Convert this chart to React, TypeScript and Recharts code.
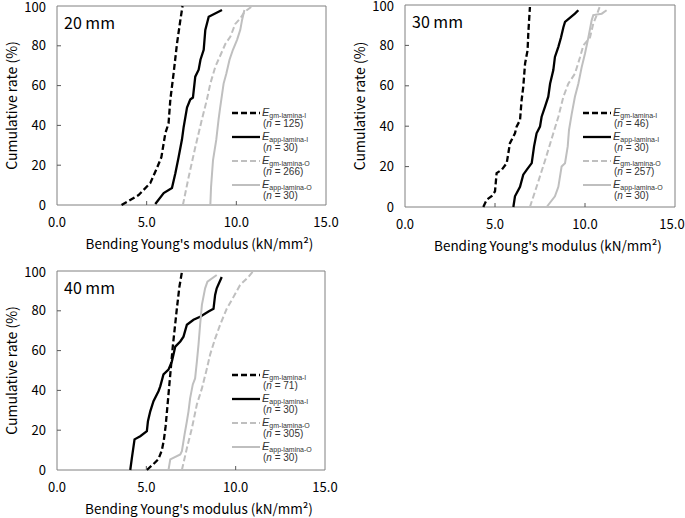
import { LineChart, Line, XAxis, YAxis, ReferenceArea, Label } from 'recharts';

const FONT = "'Noto Sans CJK JP', 'Noto Sans', sans-serif";
const LEGEND_FONT = "'Liberation Sans', Arial, sans-serif";

// axis ticks
const modulusTicks = [0, 5, 10, 15];
const rateTicks = [0, 20, 40, 60, 80, 100];

// legend keys, same order as the series below
const seriesKeys = ['gm-lamina-I', 'app-lamina-I', 'gm-lamina-O', 'app-lamina-O'];

// [modulus kN/mm2, cumulative rate %]
const gmI20 = [[3.6, 0], [4.55, 5], [5.2, 11], [5.57, 18.5], [5.82, 24], [6.04, 36], [6.22, 41], [6.32, 53], [6.5, 66], [6.69, 81], [6.88, 93], [7.0, 100]];
const appI20 = [[5.48, 0.5], [5.95, 6], [6.41, 8.5], [6.6, 16], [6.78, 24], [6.97, 33], [7.06, 39], [7.25, 49], [7.43, 53], [7.58, 54], [7.71, 64.5], [7.9, 68], [8.0, 73], [8.18, 78], [8.27, 88], [8.46, 94.6], [9.2, 98]];
const gmO20 = [[7.02, 0], [7.34, 14], [7.71, 29], [8.08, 43], [8.36, 53], [8.55, 61], [8.83, 69.5], [9.1, 75], [9.39, 81], [9.67, 84.6], [9.94, 91], [10.22, 93.8], [10.45, 97], [10.9, 100]];
const appO20 = [[8.55, 0], [8.59, 9], [8.7, 22.6], [8.88, 32.7], [9.01, 43], [9.1, 49], [9.29, 61], [9.44, 66], [9.62, 73], [9.81, 78], [10.04, 83], [10.22, 88], [10.32, 93], [10.45, 98]];
const counts20 = [125, 30, 266, 30];

const gmI30 = [[4.35, 0], [4.54, 3.6], [4.81, 5.3], [5.0, 7.7], [5.09, 16.8], [5.37, 18.4], [5.65, 21.7], [5.74, 26.6], [5.83, 31.6], [6.11, 36.5], [6.2, 39.8], [6.39, 43], [6.48, 53], [6.57, 59.5], [6.67, 71], [6.81, 77.6], [6.85, 86], [6.94, 99]];
const appI30 = [[6.02, 0], [6.11, 5.3], [6.39, 10], [6.57, 16], [6.76, 18.4], [7.04, 21.7], [7.17, 30], [7.31, 36.5], [7.5, 39.8], [7.59, 44.7], [7.78, 49.7], [7.96, 54.6], [8.06, 61], [8.24, 67.8], [8.33, 74.3], [8.52, 79.3], [8.67, 84], [8.8, 89], [8.89, 91.6], [9.44, 95.7], [9.63, 97.4]];
const gmO30 = [[6.94, 0], [7.31, 10], [7.78, 23], [8.24, 36.5], [8.52, 44.7], [8.8, 54.6], [9.07, 61], [9.44, 66], [9.72, 74], [9.91, 80], [10.28, 84], [10.46, 90.8], [10.65, 95], [10.83, 99.5]];
const appO30 = [[7.87, 0], [8.33, 5.3], [8.52, 10], [8.7, 20], [8.89, 21.7], [9.04, 30], [9.11, 38], [9.26, 46], [9.44, 54.6], [9.63, 61], [9.81, 69], [10.0, 76], [10.19, 84], [10.37, 92.4], [10.46, 95], [10.93, 95.7], [11.2, 97.4]];
const counts30 = [46, 30, 257, 30];

const gmI40 = [[5.03, 0], [5.15, 1], [5.4, 3], [5.68, 5.5], [5.87, 10], [5.98, 15], [6.08, 22], [6.18, 32], [6.28, 42], [6.38, 52], [6.48, 62], [6.6, 72], [6.72, 82], [6.85, 92], [7.0, 100]];
const appI40 = [[4.1, 0], [4.19, 6], [4.34, 15.4], [4.66, 17], [5.03, 19.5], [5.09, 24.5], [5.22, 29.5], [5.4, 34.6], [5.68, 39.6], [5.78, 42], [5.96, 48], [6.24, 50.4], [6.43, 54.6], [6.52, 58], [6.62, 62], [6.9, 64.6], [7.08, 67], [7.27, 73], [7.64, 75.5], [8.01, 77], [8.48, 79.6], [8.76, 81], [8.85, 88], [8.94, 91.3], [9.22, 97]];
const gmO40 = [[6.99, 0], [7.27, 11], [7.55, 21], [7.83, 33], [8.11, 41], [8.39, 51], [8.57, 58], [8.85, 66], [9.13, 73], [9.5, 81], [9.88, 87], [10.25, 93], [10.71, 97], [10.99, 100]];
const appO40 = [[6.24, 0], [6.34, 5.3], [6.9, 7.8], [6.99, 9.5], [7.14, 17.9], [7.27, 24.5], [7.36, 29.5], [7.45, 36], [7.6, 43], [7.73, 46], [7.83, 54.6], [7.92, 63], [8.01, 73], [8.11, 83], [8.29, 91.3], [8.42, 94.6], [8.94, 98]];
const counts40 = [71, 30, 305, 30];

const lineStyles = [
  { stroke: '#000000', width: 2.3, dash: '6 3' },
  { stroke: '#000000', width: 2.3, dash: undefined },
  { stroke: '#BFBFBF', width: 2, dash: '6 3' },
  { stroke: '#BFBFBF', width: 2, dash: undefined },
];

const toPoints = (pairs: number[][]) => pairs.map(([x, y]) => ({ x, y }));

const M_LEFT = 57;
const M_TOP = 14;
const M_RIGHT = 14;
const AXIS_H = 50;
const TICK_LEN = 4;

function XTick(props: any) {
  const { x, y, payload, maxX } = props;
  const base = y - 13;
  const inner = payload.value > 0 && payload.value < 15;
  const tx = maxX ? Math.min(x, maxX) : x;
  return (
    <g>
      {inner && <line x1={x} x2={x} y1={base} y2={base - TICK_LEN} stroke="#595959" strokeWidth={1} />}
      <text x={tx} y={y} dy="0.71em" textAnchor="middle" fontSize={13} fill="#000" fontFamily={FONT}>
        {payload.value.toFixed(1)}
      </text>
    </g>
  );
}

function YTick(props: any) {
  const { x, y, payload } = props;
  const base = x + 11;
  const inner = payload.value > 0 && payload.value < 100;
  const ty = payload.value === 100 ? y + 1 : y;
  return (
    <g>
      {inner && <line x1={base} x2={base + TICK_LEN} y1={y} y2={y} stroke="#595959" strokeWidth={1} />}
      <text x={x} y={ty} dy="0.355em" textAnchor="end" fontSize={13} fill="#000" fontFamily={FONT}>
        {payload.value}
      </text>
    </g>
  );
}

function LegendBox({ counts, left, top }: { counts: number[]; left: number; top: number }) {
  return (
    <div style={{ position: 'absolute', left, top, fontFamily: LEGEND_FONT, color: '#333', fontSize: 11 }}>
      {seriesKeys.map((key, i) => {
        const s = lineStyles[i];
        return (
          <div key={key} style={{ position: 'relative', width: 95, height: 24 }}>
            <svg width={29} height={14} style={{ position: 'absolute', left: 0, top: 0 }}>
              <line x1={0} x2={28} y1={7} y2={7} stroke={s.stroke} strokeWidth={s.width} strokeDasharray={s.dash} />
            </svg>
            <div style={{ position: 'absolute', left: 30, top: 0, height: 13, fontSize: 11, lineHeight: '12px', whiteSpace: 'nowrap' }}>
              <span style={{ fontStyle: 'italic' }}>E</span>
              <span style={{ fontSize: 7, lineHeight: '7px', verticalAlign: '-2px' }}>{key}</span>
            </div>
            <div style={{ position: 'absolute', left: 31, top: 13, height: 10, fontSize: 10, lineHeight: '10px', whiteSpace: 'nowrap' }}>
              (<span style={{ fontStyle: 'italic' }}>n</span> = {counts[i]})
            </div>
          </div>
        );
      })}
    </div>
  );
}

interface PanelProps {
  left: number;
  top: number;
  plotW: number;
  plotH: number;
  title: string;
  series: number[][][];
  counts: number[];
  legendX: number;
  legendY: number;
}

function Panel({ left, top, plotW, plotH, title, series, counts, legendX, legendY }: PanelProps) {
  const width = M_LEFT + plotW + M_RIGHT;
  const height = M_TOP + plotH + AXIS_H;
  // keep the last x tick label inside the 685px page
  const maxX = 685 - 13 - (left - M_LEFT);
  return (
    <div style={{ position: 'absolute', left: left - M_LEFT, top: top - M_TOP, width, height }}>
      <LineChart width={width} height={height} margin={{ top: M_TOP, right: M_RIGHT, left: 0, bottom: 0 }}>
        <XAxis
          type="number"
          dataKey="x"
          domain={[0, 15]}
          ticks={modulusTicks}
          height={AXIS_H}
          axisLine={false}
          tickLine={false}
          tickSize={0}
          tickMargin={13}
          tick={<XTick maxX={maxX} />}
          interval={0}
        >
          <Label
            value="Bending Young's modulus (kN/mm²)"
            position="insideBottom"
            offset={6}
            dx={8}
            style={{ fontSize: 13.5, fill: '#000', fontFamily: FONT }}
          />
        </XAxis>
        <YAxis
          type="number"
          dataKey="y"
          domain={[0, 100]}
          ticks={rateTicks}
          width={M_LEFT}
          axisLine={false}
          tickLine={false}
          tickSize={0}
          tickMargin={11}
          tick={<YTick />}
          interval={0}
        >
          <Label
            value="Cumulative rate (%)"
            angle={-90}
            position="insideLeft"
            offset={12}
            style={{ fontSize: 14, fill: '#000', fontFamily: FONT, textAnchor: 'middle' }}
          />
        </YAxis>
        <ReferenceArea x1={0} x2={15} y1={0} y2={100} fill="none" stroke="#808080" strokeWidth={1}>
          <Label
            content={(p: any) => (
              <text x={p.viewBox.x + 7} y={p.viewBox.y + 23} fontSize={16} fill="#000" fontFamily={FONT}>
                {title}
              </text>
            )}
          />
        </ReferenceArea>
        {series.map((pts, i) => (
          <Line
            key={seriesKeys[i]}
            data={toPoints(pts)}
            dataKey="y"
            type="linear"
            stroke={lineStyles[i].stroke}
            strokeWidth={lineStyles[i].width}
            strokeDasharray={lineStyles[i].dash}
            dot={false}
            activeDot={false}
            isAnimationActive={false}
          />
        ))}
      </LineChart>
      <LegendBox counts={counts} left={M_LEFT + legendX} top={M_TOP + legendY} />
    </div>
  );
}

export default function App() {
  return (
    <div style={{ position: 'absolute', left: 0, top: 0, width: 685, height: 518, background: '#fff', overflow: 'hidden' }}>
      <Panel left={57} top={6} plotW={269} plotH={199} title="20 mm" series={[gmI20, appI20, gmO20, appO20]} counts={counts20} legendX={175} legendY={100} />
      <Panel left={405} top={5} plotW={270} plotH={202} title="30 mm" series={[gmI30, appI30, gmO30, appO30]} counts={counts30} legendX={178} legendY={101} />
      <Panel left={57} top={271} plotW={268} plotH={199} title="40 mm" series={[gmI40, appI40, gmO40, appO40]} counts={counts40} legendX={175} legendY={97} />
    </div>
  );
}
